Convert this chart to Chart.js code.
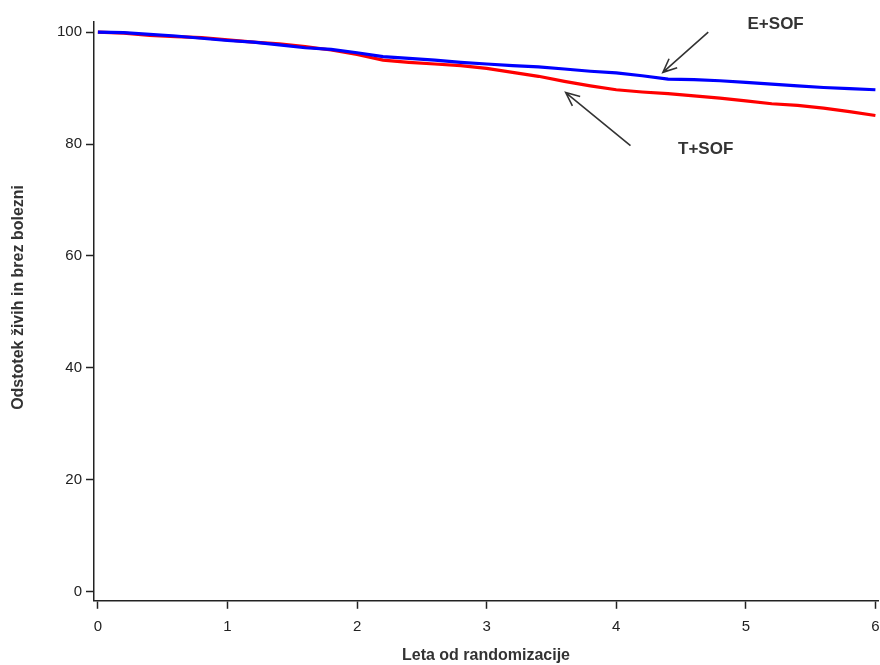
<!DOCTYPE html>
<html lang="sl">
<head>
    <meta charset="UTF-8">
    <title>Preživetje brez bolezni</title>
    <style>
        html, body { margin: 0; padding: 0; background: #fff; }
        #wrap { width: 880px; height: 665px; }
    </style>
</head>
<body>
    <div id="wrap">
        <canvas id="kmChart" width="880" height="665"></canvas>
    </div>

    <script src="https://cdn.jsdelivr.net/npm/chart.js"></script>

    <script>
        // leta od randomizacije
        const years = [0, 0.2, 0.4, 0.6, 0.8, 1.0, 1.2, 1.4, 1.6, 1.8, 2.0, 2.2, 2.4, 2.6, 2.8, 3.0,
                       3.2, 3.4, 3.6, 3.8, 4.0, 4.2, 4.4, 4.6, 4.8, 5.0, 5.2, 5.4, 5.6, 5.8, 6.0];

        // odstotek živih in brez bolezni
        const eSof = [100, 99.9, 99.6, 99.3, 98.9, 98.5, 98.2, 97.7, 97.2, 96.9, 96.3, 95.6, 95.3, 95.0, 94.6, 94.3,
                      94.0, 93.8, 93.4, 93.0, 92.7, 92.2, 91.6, 91.5, 91.3, 91.0, 90.7, 90.4, 90.1, 89.9, 89.7];
        const tSof = [100, 99.8, 99.4, 99.2, 99.0, 98.6, 98.2, 97.9, 97.4, 96.8, 96.0, 95.0, 94.6, 94.3, 94.0, 93.5,
                      92.8, 92.1, 91.2, 90.4, 89.7, 89.3, 89.0, 88.6, 88.2, 87.7, 87.2, 86.9, 86.4, 85.8, 85.1];

        const xTicks = [0, 1, 2, 3, 4, 5, 6];
        const yTicks = [0, 20, 40, 60, 80, 100];

        const yTitle = 'Odstotek živih in brez bolezni';

        // oznake s puščicami (v podatkovnih koordinatah)
        const labels = [
            { text: 'E+SOF', tx: 5.23, ty: 101.3, from: [4.71, 100.0], to: [4.36, 92.8] },
            { text: 'T+SOF', tx: 4.69, ty: 79.0, from: [4.11, 79.7], to: [3.61, 89.2] }
        ];

        const FONT = 'Liberation Sans, Arial, sans-serif';
        const INK = '#222';

        const arrowPlugin = {
            id: 'arrows',
            afterDatasetsDraw(chart) {
                const c = chart.ctx, xs = chart.scales.x, ys = chart.scales.y;
                c.save();
                labels.forEach(l => {
                    const x1 = xs.getPixelForValue(l.from[0]), y1 = ys.getPixelForValue(l.from[1]);
                    const x2 = xs.getPixelForValue(l.to[0]), y2 = ys.getPixelForValue(l.to[1]);
                    c.strokeStyle = '#333';
                    c.lineWidth = 1.6;
                    c.beginPath();
                    c.moveTo(x1, y1);
                    c.lineTo(x2, y2);
                    const ang = Math.atan2(y2 - y1, x2 - x1);
                    const len = 15, spread = 0.42;
                    c.moveTo(x2 - len * Math.cos(ang - spread), y2 - len * Math.sin(ang - spread));
                    c.lineTo(x2, y2);
                    c.lineTo(x2 - len * Math.cos(ang + spread), y2 - len * Math.sin(ang + spread));
                    c.stroke();

                    c.fillStyle = '#333';
                    c.font = 'bold 17px ' + FONT;
                    c.textAlign = 'center';
                    c.textBaseline = 'middle';
                    c.fillText(l.text, xs.getPixelForValue(l.tx), ys.getPixelForValue(l.ty));
                });

                // naslov osi y (v izvirniku je malo nad sredino)
                c.translate(19, ys.getPixelForValue(52.6));
                c.rotate(-Math.PI / 2);
                c.font = 'bold 16px ' + FONT;
                c.fillStyle = '#333';
                c.textAlign = 'center';
                c.textBaseline = 'middle';
                c.fillText(yTitle, 0, 0);
                c.restore();
            }
        };

        const toPoints = vals => years.map((x, i) => ({ x: x, y: vals[i] }));

        new Chart(document.getElementById('kmChart'), {
            type: 'line',
            data: {
                datasets: [
                    {
                        label: 'E+SOF',
                        data: toPoints(eSof),
                        borderColor: '#0000ff',
                        borderWidth: 3.2,
                        pointRadius: 0,
                        fill: false
                    },
                    {
                        label: 'T+SOF',
                        data: toPoints(tSof),
                        borderColor: '#ff0000',
                        borderWidth: 3.2,
                        pointRadius: 0,
                        fill: false
                    }
                ]
            },
            options: {
                responsive: false,
                animation: false,
                layout: { padding: { top: 22, right: 2, left: 10, bottom: 0 } },
                plugins: {
                    legend: { display: false },
                    tooltip: { enabled: false }
                },
                scales: {
                    x: {
                        type: 'linear',
                        min: -0.03,
                        max: 6.02,
                        afterBuildTicks: axis => { axis.ticks = xTicks.map(v => ({ value: v })); },
                        afterFit: axis => { axis.paddingRight = 0; axis.paddingLeft = 0; },
                        ticks: { color: INK, font: { family: FONT, size: 15 }, padding: 9, maxRotation: 0 },
                        grid: { drawOnChartArea: false, drawTicks: true, tickLength: 8, color: INK, tickWidth: 1.5 },
                        border: { display: true, color: INK, width: 1.5 },
                        title: {
                            display: true,
                            text: 'Leta od randomizacije',
                            color: '#333',
                            font: { family: FONT, size: 16, weight: 'bold' },
                            padding: { top: 1, bottom: 0 }
                        }
                    },
                    y: {
                        min: -1.6,
                        max: 101.8,
                        afterBuildTicks: axis => { axis.ticks = yTicks.map(v => ({ value: v })); },
                        afterFit: axis => { axis.width = 84; },
                        ticks: { color: INK, font: { family: FONT, size: 15 }, padding: 4 },
                        grid: { drawOnChartArea: false, drawTicks: true, tickLength: 8, color: INK, tickWidth: 1.5 },
                        border: { display: true, color: INK, width: 1.5 },
                        title: { display: false }
                    }
                }
            },
            plugins: [arrowPlugin]
        });
    </script>
</body>
</html>
